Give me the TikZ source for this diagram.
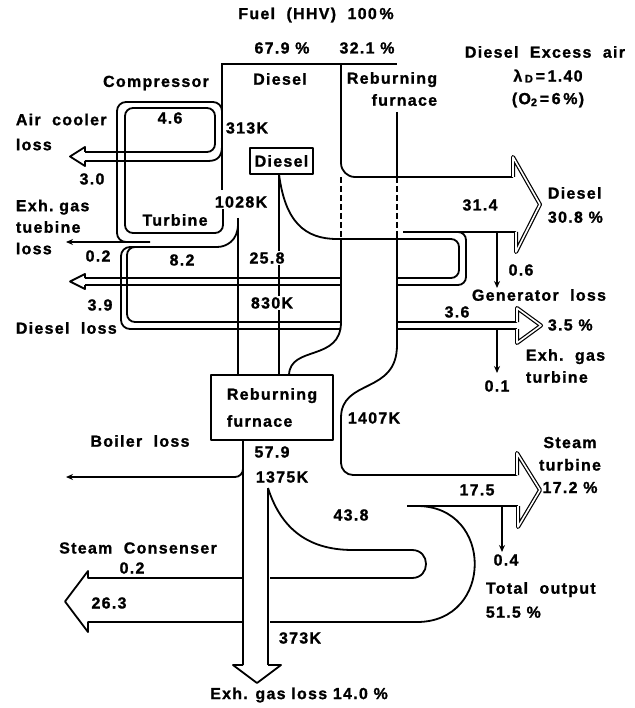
\documentclass[tikz,border=0pt]{standalone}
\usepackage{fontspec}
\setmainfont{Liberation Sans}[LetterSpace=8, BoldFeatures={FakeBold=1.2}]
\usetikzlibrary{arrows.meta}
\begin{document}
\begin{tikzpicture}[x=1pt,y=-1pt, line width=1.8pt, line join=round,
  lbl/.style={font=\bfseries\fontsize{16}{22}\selectfont, inner sep=1pt},
  wlbl/.style={lbl, fill=white},
  dbl/.style={double, double distance=1.6pt, line width=1.2pt},
  dsh/.style={dash pattern=on 6pt off 3pt},
  tip/.style={-{Stealth[length=7pt,width=6pt]}}]
\useasboundingbox (0,0) rectangle (634,708);

% fuel split
\draw (221,64) -- (397,64);
\draw (222,64) -- (222,190);
% compressor outer loop
\draw[rounded corners=9pt] (222,125) -- (222,102) -- (117,102) -- (117,242) -- (150,242);
\draw[tip] (150,242) -- (66,242);
% compressor inner / turbine box
\draw[rounded corners=8pt] (85,152) -- (215,152) -- (215,108) -- (125,108) -- (125,233) -- (223,233) -- (223,196);
\draw (85,161) -- (208,161) .. controls (218,161) and (222,156) .. (222,146);
\draw (85,152) -- (85,147) -- (70,156.5) -- (85,166) -- (85,161);
% exhaust down line
\draw (238,218) -- (238,375);
% diesel loss loops
\draw[rounded corners=9pt] (238,224) .. controls (238,241) and (226,247) .. (208,247) -- (121,247) -- (121,329) -- (341,329);
\draw[rounded corners=8pt] (341,322) -- (127,322) -- (127,247) -- (140,247);
\draw (85,278) -- (341,278);
\draw (85,285) -- (341,285);
\draw (85,278) -- (85,274) -- (70,281.5) -- (85,289) -- (85,285);
% diesel box and lines below
\node[draw, lbl, line width=1.8pt, minimum width=63pt, minimum height=26pt] (dbox) at (281.5,161) {Diesel};
\draw (279,174) -- (279,375);
\draw[rounded corners=8pt] (279,174) .. controls (285,222) and (305,239) .. (345,239) -- (459,239) -- (459,278) -- (397,278);
\draw[rounded corners=8pt] (440,232) -- (466,232) -- (466,285) -- (397,285);
% diesel output arrow
\draw[rounded corners=14pt] (341,64) -- (341,177) -- (513,177);
\draw (403,232) -- (516,232);
\draw[dbl] (513,177) -- (513,157) -- (540,204.5) -- (516,252) -- (516,232);
\draw[tip] (497,232) -- (497,288);
% reburning flow edges
\draw (397,112) -- (397,177);
\draw[dsh] (397,177) -- (397,236);
\draw (397,236) -- (397,345) .. controls (397,395) and (341,378) .. (341,418);
\draw[rounded corners=12pt] (341,417) -- (341,475) -- (517,475);
\draw[dsh] (341,177) -- (341,239);
\draw (341,239) -- (341,322) .. controls (341,362) and (290,345) .. (289,375);
% exh gas turbine arrow
\draw (397,322) -- (517,322);
\draw (397,329) -- (517,329);
\draw[dbl] (517,322) -- (517,308) -- (541,325.5) -- (517,343) -- (517,329);
\draw[tip] (497,329) -- (497,373);
% reburning furnace box
\node[draw, line width=1.8pt, minimum width=122pt, minimum height=65pt, align=left,
  font=\bfseries\fontsize{16}{27}\selectfont] (rfbox) at (272,407.5) {Reburning\\furnace};
% boiler loss, exhaust down
\draw (243,440) -- (243,665);
\draw[rounded corners=8pt, tip] (243,462) -- (243,477) -- (66,477);
\draw (268,488) -- (268,665);
\draw (243,665) -- (233,665) -- (257,683) -- (281,665) -- (268,665);
% U loops
\draw (268,488) .. controls (283,535) and (315,550) .. (353,550) -- (412,550) .. controls (430.7,550) and (430.7,578) .. (412,578) -- (270,578);
\draw (407,506) -- (417,506) .. controls (494,506) and (494,622) .. (417,622) -- (270,622);
\draw (243,578) -- (88,578) -- (88,571) -- (65,601.5) -- (88,632) -- (88,622) -- (243,622);
% steam turbine arrow
\draw (407,506) -- (518,506);
\draw[dbl] (517,475) -- (517,453) -- (540,490) -- (518,527) -- (518,506);
\draw[tip] (502,506) -- (502,552);

% labels
\node[lbl] (fuel) at (316,15) {Fuel\ \ (HHV)\ \ 100\,\%};
\node[lbl] (p679) at (282,48) {67.9 \%};
\node[lbl] (p321) at (367,48) {32.1 \%};
\node[lbl] (dieseltop) at (280,79) {Diesel};
\node[lbl, align=right, anchor=east] (rebtop) at (439,89) {Reburning\\furnace};
\node[lbl, anchor=west] (excess) at (463,52) {Diesel\ \ Excess\ \ air};
\node[lbl] (lam) at (548,76) {λ\,\raisebox{-1pt}{\fontsize{11}{11}\selectfont D}\,=\,1.40};
\node[lbl] (otwo) at (548,100) {(O\raisebox{-2pt}{\fontsize{11}{11}\selectfont 2}\,=\,6\,\%)};
\node[lbl] (comp) at (156,83) {Compressor};
\node[lbl] (v46) at (170,118) {4.6};
\node[lbl] (k313) at (247,128) {313K};
\node[lbl, anchor=west, align=left, font=\bfseries\fontsize{16}{25}\selectfont] (aircool) at (14,132) {Air\ \ cooler\\loss};
\node[lbl] (v30) at (92,179) {3.0};
\node[wlbl] (k1028) at (241,202) {1028K};
\node[lbl, anchor=west, align=left, font=\bfseries\fontsize{16}{21.5}\selectfont] (exhgt) at (14,227) {Exh.\ gas\\tuebine\\loss};
\node[lbl] (turb) at (175,220) {Turbine};
\node[lbl] (v02a) at (98,256) {0.2};
\node[lbl] (v82) at (182,260) {8.2};
\node[wlbl] (v258) at (267,258) {25.8};
\node[lbl] (v39) at (100,305) {3.9};
\node[wlbl] (k830) at (272,303) {830K};
\node[lbl, anchor=west] (dloss) at (14,328) {Diesel\ \ loss};
\node[lbl] (v314) at (480,205) {31.4};
\node[lbl, anchor=west, align=left, font=\bfseries\fontsize{16}{24}\selectfont] (dout) at (546,205) {Diesel\\30.8 \%};
\node[lbl] (v06) at (521,270) {0.6};
\node[lbl] (genloss) at (539,295) {Generator\ \ loss};
\node[lbl] (v36) at (457,312) {3.6};
\node[lbl, anchor=west] (p35) at (546,325) {3.5 \%};
\node[lbl, anchor=west, align=left] (exhgt2) at (524,366) {Exh.\ \ gas\\turbine};
\node[lbl] (v01) at (497,386) {0.1};
\node[lbl] (k1407) at (374,418) {1407K};
\node[lbl] (boil) at (140,441) {Boiler\ \ loss};
\node[lbl] (v579) at (272,452) {57.9};
\node[lbl] (k1375) at (282,477) {1375K};
\node[lbl] (scond) at (138,548) {Steam\ \ Consenser};
\node[lbl] (v02b) at (132,568) {0.2};
\node[lbl] (v263) at (109,603) {26.3};
\node[lbl] (k373) at (300,638) {373K};
\node[lbl] (exhloss) at (299,695) {Exh. gas loss 14.0 \%};
\node[lbl, align=center, font=\bfseries\fontsize{16}{22.5}\selectfont] (stout) at (570,465) {Steam\\turbine\\17.2 \%};
\node[lbl] (v175) at (477,490) {17.5};
\node[lbl] (v438) at (351,515) {43.8};
\node[lbl] (v04) at (506,560) {0.4};
\node[lbl, anchor=west, align=left, font=\bfseries\fontsize{16}{24}\selectfont] (tot) at (484,600) {Total\ \ output\\51.5 \%};
\end{tikzpicture}
\end{document}
